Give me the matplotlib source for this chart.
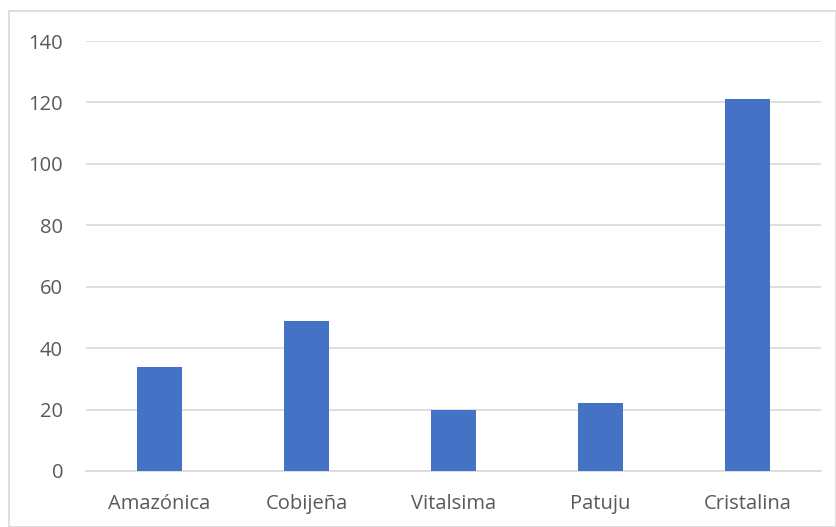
import matplotlib.pyplot as plt
from matplotlib.patches import Rectangle

# datos
marcas = ["Amazónica", "Cobijeña", "Vitalsima", "Patuju", "Cristalina"]
valores = [34, 49, 20, 22, 121]
ticks_y = [0, 20, 40, 60, 80, 100, 120, 140]

W, H = 836, 527
fig = plt.figure(figsize=(W / 100, H / 100), dpi=100)
plt.rcParams['font.family'] = ['Open Sans', 'DejaVu Sans']

# marco exterior del gráfico
fig.patches.append(Rectangle((9 / W, 0.5 / H), (W - 9.5) / W, (H - 11.5) / H,
                             transform=fig.transFigure, fill=False,
                             edgecolor='#D9D9D9', linewidth=1.2))

ax = fig.add_axes([86 / W, 1 - 471 / H, (821 - 86) / W, (471 - 41) / H])
x = range(len(marcas))
ax.bar(x, valores, width=0.31, color='#4472C4', zorder=3)

ax.set_xlim(-0.5, len(marcas) - 0.5)
ax.set_ylim(0, 140)
ax.set_yticks(ticks_y)
ax.set_xticks(list(x))
ax.set_xticklabels(marcas)
ax.yaxis.grid(True, color='#D9D9D9', linewidth=1.2, zorder=0)
ax.tick_params(axis='both', length=0, labelsize=14.5, labelcolor='#595959')
ax.tick_params(axis='y', pad=16.5)
ax.tick_params(axis='x', pad=16.5)
for s in ['top', 'right', 'left']:
    ax.spines[s].set_visible(False)
ax.spines['bottom'].set_color('#D9D9D9')
ax.spines['bottom'].set_linewidth(1.2)

fig.savefig("out.png", dpi=100)
